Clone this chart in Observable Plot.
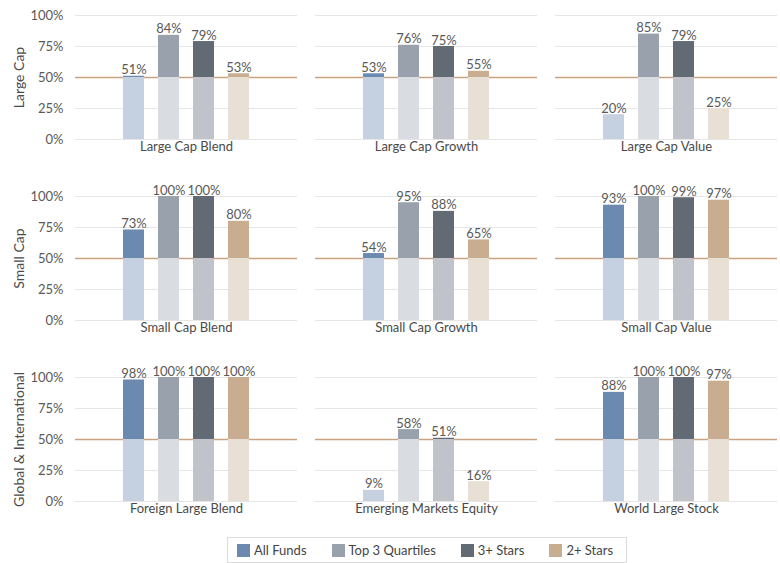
<!DOCTYPE html>
<html>
<head>
<meta charset="utf-8">
<script src="https://cdn.jsdelivr.net/npm/d3@7"></script>
<script src="https://cdn.jsdelivr.net/npm/@observablehq/plot@0.6"></script>
<style>
  body { margin: 0; background: #fff; font-family: Lato, sans-serif; }
  #legend { margin-left: 227px; margin-top: 14px; width: 389px; height: 24px; border: 1px solid #dcdcdc;
    display: flex; align-items: center; padding-left: 9px; box-sizing: content-box; gap: 25px;
    font-size: 13px; color: #444; }
  #legend .item { display: flex; align-items: center; gap: 4px; }
  #legend .sw { width: 13px; height: 13px; display: inline-block; }
</style>
</head>
<body>
<div id="chart"></div>
<div id="legend"></div>
<script>
const rows = ["Large Cap", "Small Cap", "Global & International"];
const categories = [
  "Large Cap Blend", "Large Cap Growth", "Large Cap Value",
  "Small Cap Blend", "Small Cap Growth", "Small Cap Value",
  "Foreign Large Blend", "Emerging Markets Equity", "World Large Stock"
];
const series = ["All Funds", "Top 3 Quartiles", "3+ Stars", "2+ Stars"];
const allFunds      = [51, 53, 20, 73, 54, 93, 98,  9,  88];
const top3Quartiles = [84, 76, 85, 100, 95, 100, 100, 58, 100];
const stars3        = [79, 75, 79, 100, 88, 99, 100, 51, 100];
const stars2        = [53, 55, 25, 80, 65, 97, 100, 16, 97];
const yTicks = [0, 25, 50, 75, 100];
const threshold = 50;

const darkColors  = ["#6c8ab0", "#99a2ac", "#626a74", "#c8ad91"];
const lightColors = ["#c5d1e0", "#d9dce1", "#c0c4ca", "#e9e0d5"];

const seriesValues = [allFunds, top3Quartiles, stars3, stars2];
const cats = categories.map((c, i) => ({cat: c, col: i % 3, row: rows[Math.floor(i / 3)]}));
const data = [];
cats.forEach((c, i) => {
  series.forEach((s, j) => {
    data.push({...c, series: s, si: j, value: seriesValues[j][i]});
  });
});
const firstCol = rows.map(r => ({row: r, col: 0}));

const chart = Plot.plot({
  width: 780,
  height: 523,
  marginTop: 15,
  marginBottom: 22,
  marginLeft: 74,
  marginRight: 2,
  style: {fontFamily: "Lato, sans-serif", fontSize: "13px", color: "#595959", background: "#fff"},
  fx: {domain: [0, 1, 2], axis: null, paddingInner: 0.073, paddingOuter: 0},
  fy: {domain: rows, axis: null, paddingInner: 0.315, paddingOuter: 0},
  x: {domain: series, axis: null, paddingInner: 0.39, paddingOuter: 1.29},
  y: {domain: [0, 100], axis: null},
  color: {type: "identity"},
  marks: [
    Plot.ruleY(yTicks.filter(t => t !== threshold), {stroke: "#e6e6e6"}),
    Plot.ruleY([threshold], {stroke: "#c9a37f", strokeWidth: 1.5}),
    Plot.rectY(data, {fx: "col", fy: "row", x: "series", y1: 0, y2: d => Math.min(d.value, threshold),
      fill: d => lightColors[d.si]}),
    Plot.rectY(data.filter(d => d.value > threshold), {fx: "col", fy: "row", x: "series",
      y1: threshold, y2: "value", fill: d => darkColors[d.si]}),
    Plot.text(data, {fx: "col", fy: "row", x: "series", y: "value", text: d => d.value + "%",
      lineAnchor: "bottom", dy: -2, fill: "#595959", fontSize: 13}),
    Plot.text(cats, {fx: "col", fy: "row", text: "cat", frameAnchor: "bottom", lineAnchor: "top",
      dy: 2, fill: "#4a4a4a", fontSize: 13}),
    Plot.text(firstCol, {fx: "col", fy: "row", text: "row", frameAnchor: "left", textAnchor: "middle",
      lineAnchor: "middle", rotate: -90, dx: -56, fill: "#4a4a4a", fontSize: 14}),
    Plot.axisY({ticks: yTicks, tickFormat: d => d + "%", tickSize: 0, tickPadding: 12,
      label: null, fill: "#595959", fontSize: 13})
  ]
});
document.getElementById("chart").append(chart);

const legend = document.getElementById("legend");
series.forEach((s, j) => {
  const it = document.createElement("div");
  it.className = "item";
  it.innerHTML = `<span class="sw" style="background:${darkColors[j]}"></span><span>${s}</span>`;
  legend.append(it);
});
</script>
</body>
</html>
